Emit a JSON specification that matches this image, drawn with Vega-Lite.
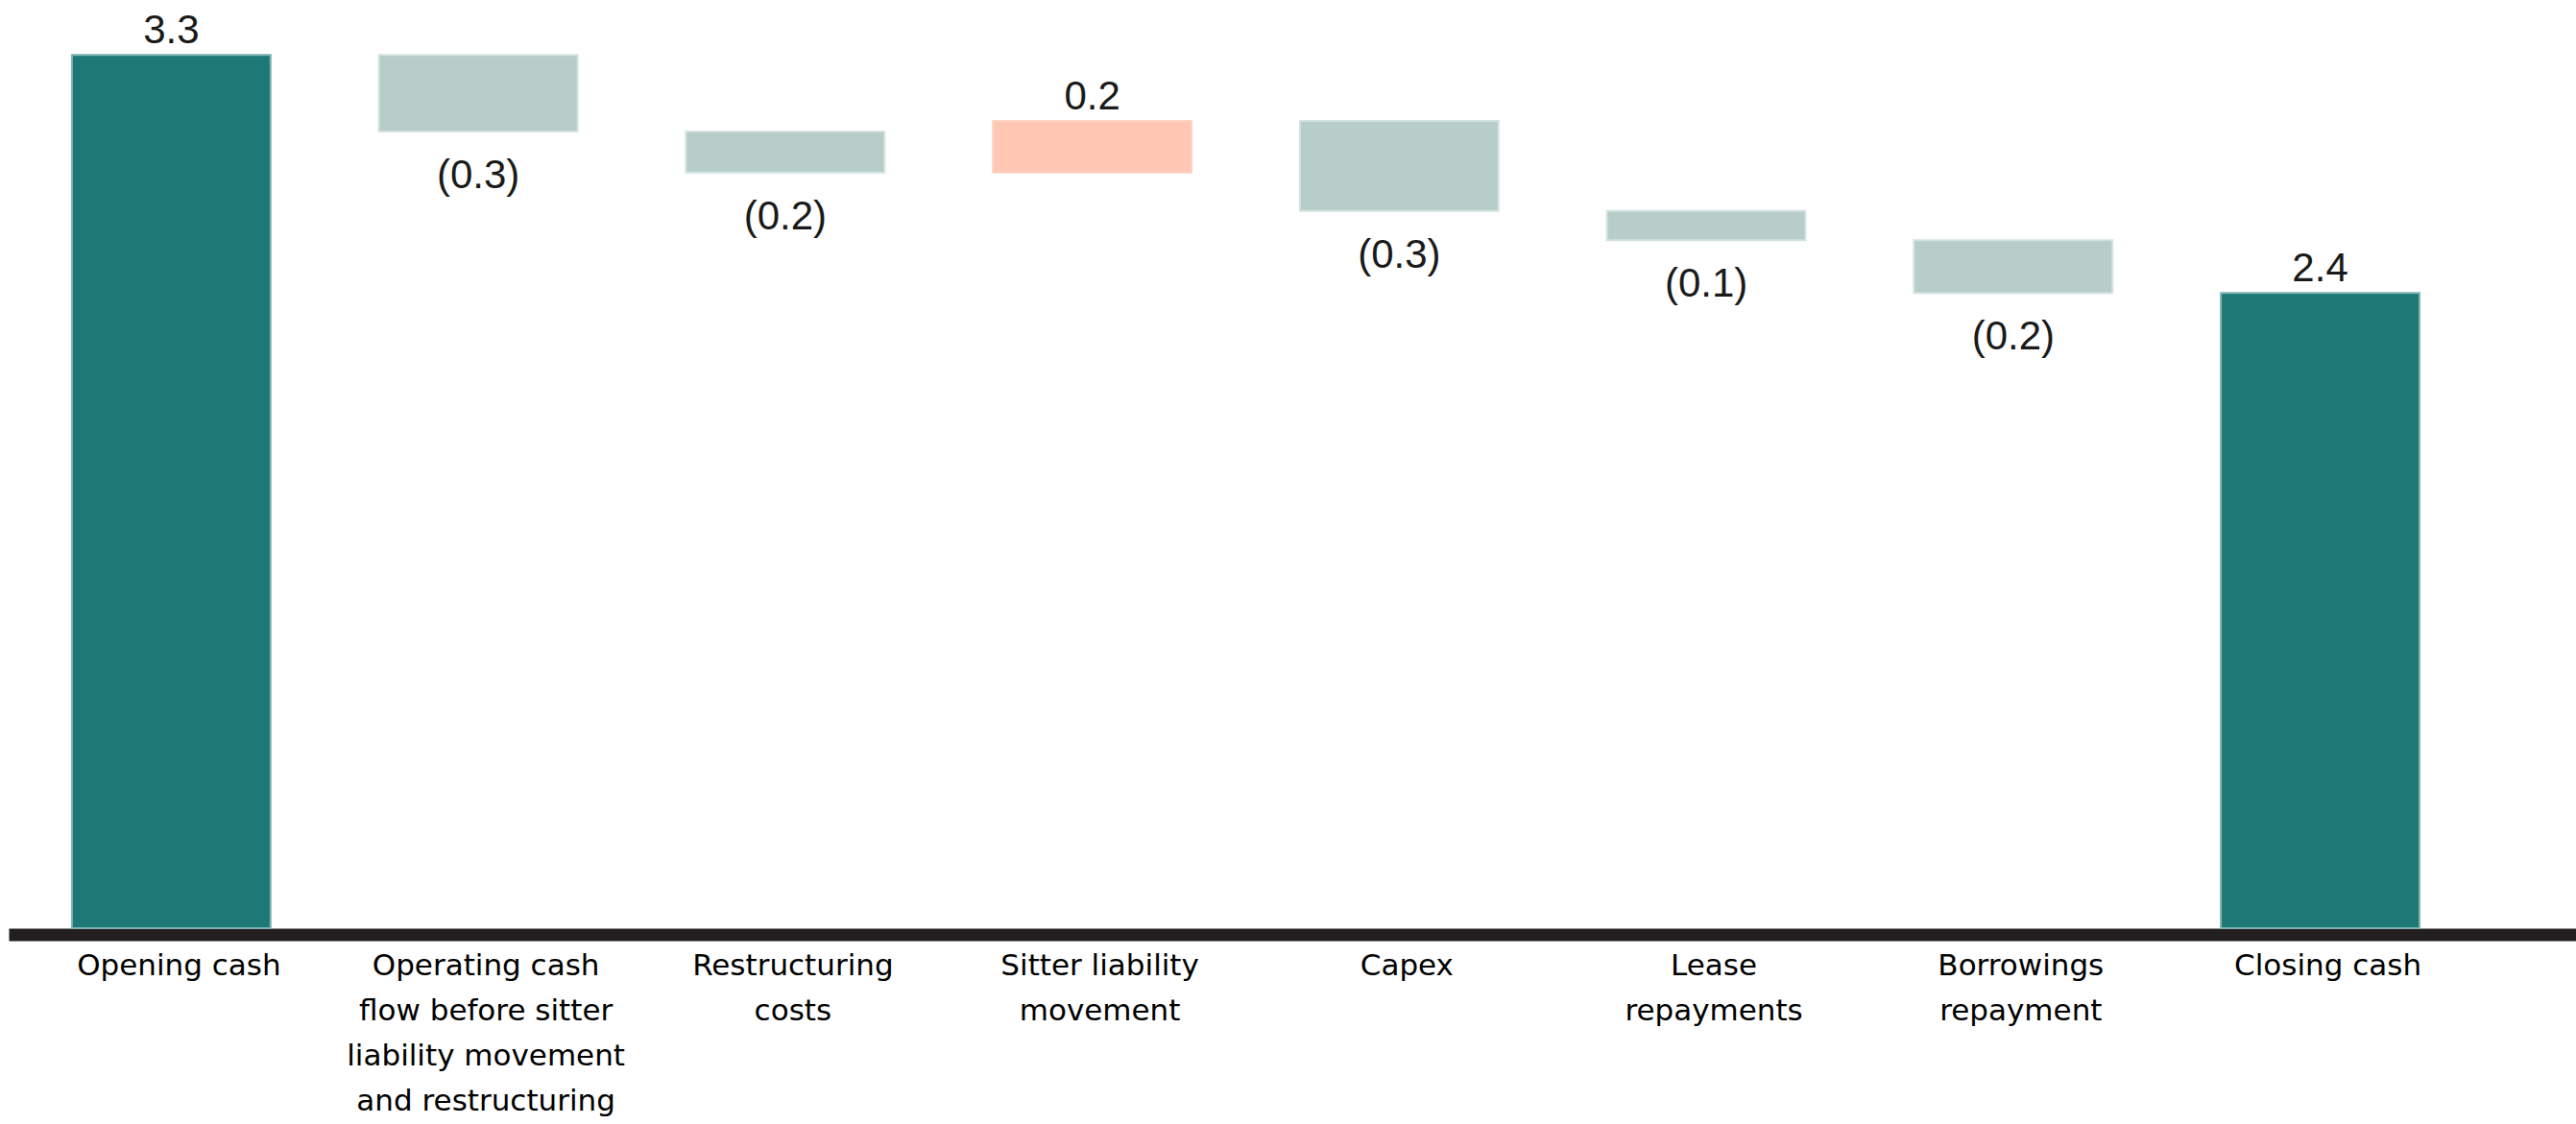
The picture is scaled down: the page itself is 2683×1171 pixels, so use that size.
{
  "$schema": "https://vega.github.io/schema/vega-lite/v6.json",
  "description": "Cash bridge: opening cash to closing cash (waterfall)",
  "autosize": {"type": "none"},
  "padding": {"left": 9, "top": 2, "right": 0, "bottom": 204},
  "width": 2674,
  "height": 965,
  "background": "#ffffff",
  "config": {"view": {"stroke": null}},
  "data": {
    "values": [
      {"step": "Opening cash", "start": 0, "end": 3.3, "amount": 3.3, "kind": "total"},
      {"step": "Operating cash|flow before sitter|liability movement|and restructuring", "start": 3.3, "end": 3.01, "amount": -0.29, "kind": "decrease"},
      {"step": "Restructuring|costs", "start": 3.01, "end": 2.855, "amount": -0.155, "kind": "decrease"},
      {"step": "Sitter liability|movement", "start": 2.855, "end": 3.05, "amount": 0.195, "kind": "increase"},
      {"step": "Capex", "start": 3.05, "end": 2.71, "amount": -0.34, "kind": "decrease"},
      {"step": "Lease|repayments", "start": 2.71, "end": 2.6, "amount": -0.11, "kind": "decrease"},
      {"step": "Borrowings|repayment", "start": 2.6, "end": 2.4, "amount": -0.2, "kind": "decrease"},
      {"step": "Closing cash", "start": 0, "end": 2.4, "amount": 2.4, "kind": "total"}
    ]
  },
  "encoding": {
    "x": {
      "field": "step",
      "type": "nominal",
      "sort": null,
      "title": null,
      "scale": {"paddingInner": 0.353, "paddingOuter": 0.358, "align": 0.288},
      "axis": {
        "labelExpr": "split(datum.label, '|')",
        "labelAngle": 0,
        "labelAlign": "center",
        "labelBaseline": "top",
        "labelFont": "DejaVu Sans",
        "labelFontSize": 31,
        "labelColor": "#000000",
        "labelLineHeight": 47,
        "labelLimit": 0,
        "labelPadding": 18,
        "labelOffset": 8,
        "ticks": false,
        "grid": false,
        "domain": true,
        "domainColor": "#231F20",
        "domainWidth": 13,
        "offset": 6.5
      }
    }
  },
  "layer": [
    {
      "mark": {"type": "bar", "strokeWidth": 2},
      "encoding": {
        "y": {
          "field": "start",
          "type": "quantitative",
          "scale": {"domain": [0, 3.5], "nice": false, "zero": true},
          "axis": null
        },
        "y2": {"field": "end"},
        "color": {
          "field": "kind",
          "type": "nominal",
          "scale": {"domain": ["total", "decrease", "increase"], "range": ["#1D7876", "#B6CDC9", "#FEC6B3"]},
          "legend": null
        },
        "stroke": {
          "field": "kind",
          "type": "nominal",
          "scale": {"domain": ["total", "decrease", "increase"], "range": ["#7DB4B0", "#D4E3E0", "#FDD3C4"]},
          "legend": null
        }
      }
    },
    {
      "transform": [{"filter": "datum.amount >= 0"}],
      "mark": {"type": "text", "baseline": "alphabetic", "align": "center", "dy": -12, "font": "Liberation Sans", "fontSize": 42, "color": "#1a1a1a"},
      "encoding": {
        "y": {"field": "end", "type": "quantitative", "scale": {"domain": [0, 3.5], "nice": false, "zero": true}, "axis": null},
        "text": {"field": "amount", "type": "quantitative", "format": "(.1f"}
      }
    },
    {
      "transform": [{"filter": "datum.amount < 0"}],
      "mark": {"type": "text", "baseline": "alphabetic", "align": "center", "dy": 59, "font": "Liberation Sans", "fontSize": 42, "color": "#1a1a1a"},
      "encoding": {
        "y": {"field": "end", "type": "quantitative", "scale": {"domain": [0, 3.5], "nice": false, "zero": true}, "axis": null},
        "text": {"field": "amount", "type": "quantitative", "format": "(.1f"}
      }
    }
  ]
}
